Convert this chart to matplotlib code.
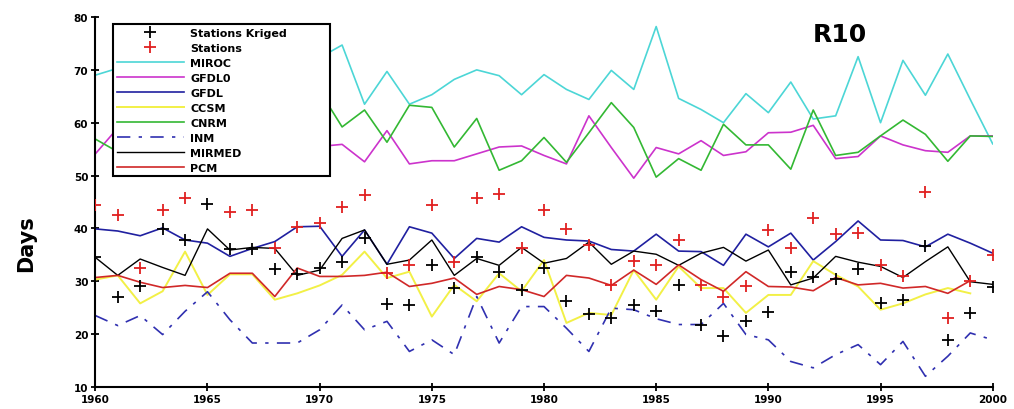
import numpy as np
import matplotlib.pyplot as plt

nan = np.nan
years = np.arange(1960, 2001)

# annual R10 days, observed
kriged = [34.5, 27.1, 29.0, 39.9, 37.8, 44.6, 36.1, 36.0, 32.3, 31.3, 32.5,
          33.7, 38.2, 25.7, 25.4, 33.0, 28.8, 34.5, 31.8, 28.4, 32.5,
          26.3, 23.8, 23.0, 25.5, 24.4, 29.2, 21.8, 19.7, 22.4, 24.2,
          31.8, 30.7, 30.4, 32.3, 25.8, 26.5, 36.7, 18.9, 24.0, 28.9]
stations = [44.4, 42.5, 32.5, 43.5, 45.8, nan, 43.1, 43.5, 36.2, 40.3, 41.1,
            44.1, 46.4, 31.5, 33.0, 44.5, 33.7, 45.8, 46.5, 36.2, 43.5,
            39.9, 36.9, 29.3, 33.8, 33.0, 37.8, 29.3, 27.1, 29.0, 39.7,
            36.2, 41.9, 38.9, 39.2, 33.1, 30.9, 46.9, 23.1, 30.1, 35.0]

# models
miroc = [69.0, 70.3, 70.5, 71.0, 69.5, 72.0, 70.0, 71.5, 69.0, 71.0, 72.3,
         74.7, 63.5, 69.7, 63.5, 65.3, 68.2, 70.0, 68.9, 65.3, 69.1,
         66.3, 64.4, 69.9, 66.3, 78.2, 64.6, 62.5, 60.0, 65.5, 61.9,
         67.7, 60.7, 61.3, 72.5, 60.0, 71.8, 65.2, 73.0, 64.4, 56.0]
gfdl0 = [54.1, 59.0, 56.0, 53.5, 55.0, 57.0, 54.0, 56.0, 53.0, 55.0, 55.5,
         55.9, 52.6, 58.5, 52.2, 52.8, 52.8, 54.1, 55.4, 55.6, 53.8,
         52.2, 61.3, 55.3, 49.5, 55.3, 54.1, 56.6, 53.8, 54.5, 58.1,
         58.2, 59.5, 53.2, 53.6, 57.5, 55.8, 54.7, 54.4, 57.5, 57.5]
gfdl = [39.9, 39.5, 38.6, 40.1, 37.8, 37.2, 34.7, 36.2, 37.5, 40.3, 40.4,
        34.7, 39.7, 33.2, 40.3, 39.1, 34.3, 38.1, 37.4, 40.3, 38.3,
        37.8, 37.6, 36.0, 35.7, 38.9, 35.7, 35.6, 33.0, 38.9, 36.5,
        39.1, 34.0, 37.5, 41.4, 37.8, 37.7, 36.5, 38.9, 37.2, 35.3]
ccsm = [30.3, 31.1, 25.8, 28.1, 35.6, 27.4, 31.3, 31.3, 26.5, 27.7, 29.2,
        31.2, 35.6, 30.6, 31.8, 23.3, 29.3, 26.2, 31.5, 28.1, 34.0,
        22.1, 24.0, 23.6, 32.1, 26.5, 32.8, 28.7, 28.7, 24.0, 27.4,
        27.4, 33.8, 31.2, 29.0, 24.6, 25.8, 27.5, 28.7, 27.7, nan]
cnrm = [56.9, 54.5, 57.0, 59.0, 55.5, 58.0, 60.0, 56.5, 58.5, 61.0, 66.0,
        59.2, 62.4, 56.3, 63.3, 62.9, 55.4, 60.8, 51.0, 52.8, 57.2,
        52.5, 58.1, 63.8, 59.1, 49.7, 53.2, 51.0, 59.7, 55.8, 55.8,
        51.2, 62.4, 53.8, 54.4, 57.5, 60.5, 57.8, 52.7, 57.5, 57.4]
inm = [23.5, 21.6, 23.5, 19.9, 24.3, 28.0, 22.7, 18.3, 18.3, 18.3, 20.8,
       25.5, 20.8, 22.4, 16.7, 18.9, 16.1, 27.1, 18.3, 25.2, 25.2,
       21.1, 16.7, 24.9, 24.6, 22.9, 21.8, 21.8, 25.8, 19.9, 18.9,
       14.8, 13.6, 16.1, 18.0, 14.2, 18.6, 12.0, 15.8, 20.2, 18.9]
mirmed = [34.5, 31.1, 34.2, 32.6, 31.1, 39.9, 35.9, 36.4, 36.2, 31.1, 32.1,
          38.1, 39.7, 33.2, 34.0, 37.8, 31.1, 34.3, 33.0, 36.4, 33.4,
          34.3, 37.4, 33.2, 35.7, 35.1, 33.0, 35.3, 36.4, 33.8, 35.9,
          29.3, 30.6, 34.7, 33.6, 32.8, 30.7, 33.7, 36.5, 29.9, 29.4]
pcm = [30.7, 31.1, 29.8, 28.8, 29.2, 28.8, 31.5, 31.5, 27.1, 32.5, 30.9,
       30.9, 31.1, 31.7, 29.0, 29.6, 30.6, 27.5, 29.0, 28.4, 27.1,
       31.1, 30.6, 29.2, 32.1, 29.4, 33.1, 30.3, 28.1, 31.8, 29.0,
       28.9, 28.2, 30.7, 29.3, 29.6, 28.7, 29.0, 27.7, 30.1, nan]

fig = plt.figure(figsize=(10.14, 4.10), dpi=100)
ax = fig.add_axes([0.094, 0.054, 0.885, 0.902])

ax.plot(years, kriged, 'k+', ms=9, mew=1.3, label='Stations Kriged', zorder=5)
ax.plot(years, stations, '+', color='#e02020', ms=9, mew=1.3, label='Stations', zorder=5)
ax.plot(years, miroc, color='#4cd6d6', lw=1.2, label='MIROC')
ax.plot(years, gfdl0, color='#cc33cc', lw=1.2, label='GFDL0')
ax.plot(years, gfdl, color='#2020a0', lw=1.2, label='GFDL')
ax.plot(years, ccsm, color='#f2f046', lw=1.4, label='CCSM')
ax.plot(years, cnrm, color='#33b833', lw=1.2, label='CNRM')
ax.plot(years, inm, color='#3030b0', lw=1.2, dashes=(8, 5, 2, 5), label='INM')
ax.plot(years, mirmed, color='k', lw=1.0, label='MIRMED')
ax.plot(years, pcm, color='#d02828', lw=1.2, label='PCM')

ax.set_xlim(1960, 2000)
ax.set_ylim(10, 80)
ax.set_xticks(range(1960, 2001, 5))
ax.set_yticks(range(10, 81, 10))
ax.spines['top'].set_visible(False)
ax.spines['right'].set_visible(False)
ax.spines['left'].set_linewidth(1.5)
ax.spines['bottom'].set_linewidth(1.5)
ax.tick_params(direction='inout', length=6, width=1.3, labelsize=7.5, pad=2)
for lab in ax.get_xticklabels() + ax.get_yticklabels():
    lab.set_fontweight('bold')

ax.set_ylabel('Days', fontsize=15, fontweight='bold')
ax.yaxis.set_label_coords(-0.066, 0.39)
ax.text(0.83, 0.955, 'R10', transform=ax.transAxes, fontsize=18,
        fontweight='bold', ha='center', va='center')

# legend box stretched to the wide frame
leg = ax.legend(loc='upper left', bbox_to_anchor=(0.02, 0.55, 0.242, 0.432),
                mode='expand', borderaxespad=0, fancybox=False, framealpha=1,
                edgecolor='k', handlelength=6.0, labelspacing=0.45,
                borderpad=0.35, handletextpad=0.6,
                prop={'size': 8, 'weight': 'bold'})
leg.get_frame().set_linewidth(1.5)

fig.savefig('out.png', dpi=100)
